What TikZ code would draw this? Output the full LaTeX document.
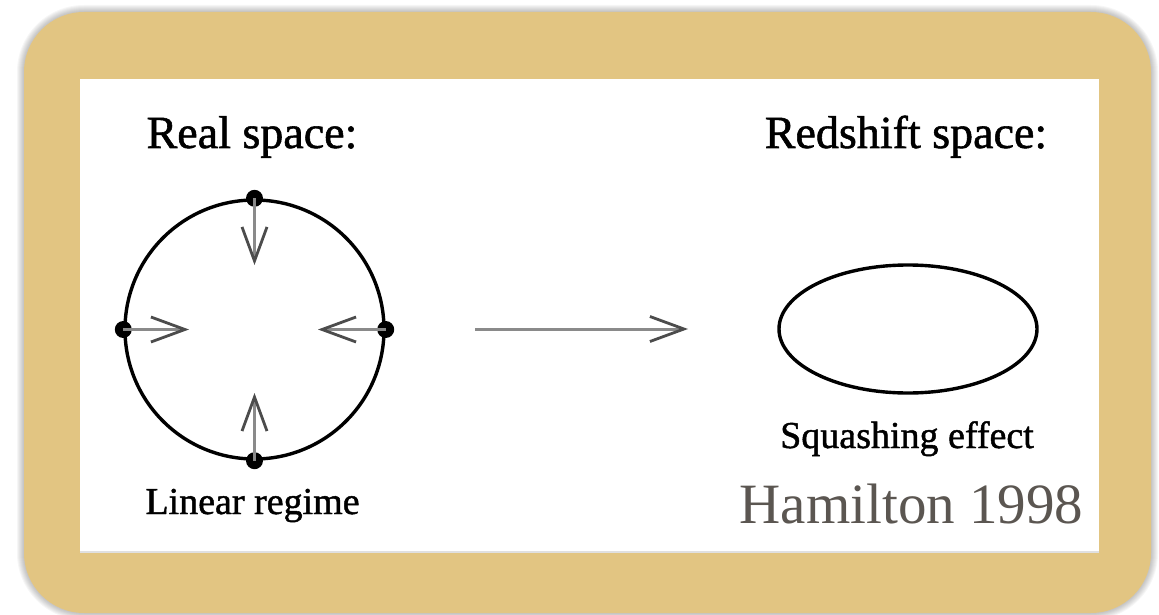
\documentclass[tikz,border=0pt]{standalone}
\usepackage{fontspec}
\setmainfont{Liberation Serif}
\newfontfamily\figfont{Liberation Serif}[FakeBold=1.2]
\usetikzlibrary{arrows.meta}
\definecolor{frametan}{HTML}{E2C582}
\definecolor{inkgray}{HTML}{8A8A8A}
\definecolor{credit}{HTML}{5B5651}
\tikzset{
  figtitle/.style={anchor=base, inner sep=0pt, font=\figfont\fontsize{46}{50}\selectfont},
  figlabel/.style={anchor=base, inner sep=0pt, font=\figfont\fontsize{38}{42}\selectfont},
  flow/.style={draw=inkgray, line width=3pt,
    -{Straight Barb[length=34pt, width=25pt, line width=2.8pt, color=black!70]}},
  particle/.style={circle, fill=black, inner sep=0pt, minimum size=17pt},
}
\begin{document}
\begin{tikzpicture}[x=1pt, y=-1pt]
  \useasboundingbox (0,0) rectangle (1159,615);
  % soft shadow round the frame
  \foreach \g in {1,...,7}
    \fill[black, opacity=0.035, rounded corners=60+\g]
      (24-\g,12-\g) rectangle (1151+\g,613+\g);
  % tan frame and white panel
  \fill[frametan, rounded corners=60] (24,12) rectangle (1151,613);
  \fill[black!12] (80,79) rectangle (1099,553);
  \fill[white] (80,79) rectangle (1099,551);

  % titles
  \node[figtitle] (realt) at (252,148) {Real space:};
  \node[figtitle] (redt) at (906,148) {Redshift space:};

  % real-space sphere with infalling shell
  \node[draw, circle, line width=3.4pt, minimum size=259pt, inner sep=0pt] (shell) at (254.5,329.5) {};
  \node[particle] (ptop) at (shell.north) {};
  \node[particle] (pbot) at (shell.south) {};
  \node[particle] (pleft) at (shell.west) {};
  \node[particle] (pright) at (shell.east) {};
  \coordinate (ttop) at (254.5,265);
  \coordinate (tbot) at (254.5,393);
  \coordinate (tleft) at (189,329.5);
  \coordinate (tright) at (318,329.5);
  \draw[flow] (ptop.center) -- (ttop);
  \draw[flow] (pbot.center) -- (tbot);
  \draw[flow] (pleft.center) -- (tleft);
  \draw[flow] (pright.center) -- (tright);

  % mapping arrow
  \coordinate (mapfrom) at (475,329);
  \coordinate (mapto) at (688,329);
  \draw[flow] (mapfrom) -- (mapto);

  % redshift-space ellipse
  \draw[line width=3.4pt] (908,329) ellipse [x radius=129pt, y radius=64pt];
  \node[figlabel] (squash) at (907,448) {Squashing effect};
  \node[figlabel] (linear) at (252.5,514) {Linear regime};

  % credit
  \node[anchor=base, inner sep=0pt, text=credit, font=\fontsize{57}{60}\selectfont]
    (cite) at (911.5,523) {Hamilton 1998};
\end{tikzpicture}
\end{document}
